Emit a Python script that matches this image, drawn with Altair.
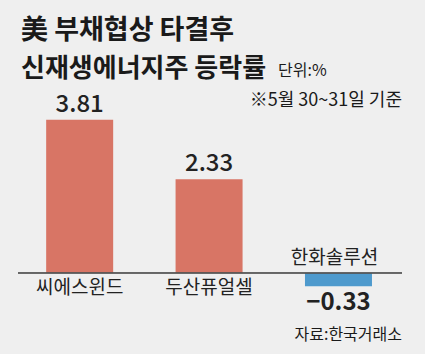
import altair as alt
import pandas as pd

categories = ["씨에스윈드", "두산퓨얼셀", "한화솔루션"]
values = [3.81, 2.33, -0.33]
labels = ["3.81", "2.33", "−0.33"]
positions = [0, 1, 2]

df = pd.DataFrame({"cat": categories, "val": values, "label": labels, "pos": positions})
df["sign"] = ["pos" if v >= 0 else "neg" for v in values]
df["zero"] = 0.0

FONT = "Noto Sans CJK KR"
W, H = 425, 354

x = alt.X("pos:Q", scale=alt.Scale(domain=[-0.577, 2.630], nice=False, zero=False), axis=None)
y = alt.Y("val:Q", scale=alt.Scale(domain=[-2.015, 6.79], nice=False, zero=False), axis=None)
y0 = alt.Y("zero:Q", scale=alt.Scale(domain=[-2.015, 6.79], nice=False, zero=False), axis=None)

base = alt.Chart(df)

bars = base.mark_bar(size=67).encode(
    x=x, y=y, y2="zero:Q",
    color=alt.Color("sign:N", scale=alt.Scale(domain=["pos", "neg"], range=["#d87565", "#4e9acd"]), legend=None),
)

axis_line = base.mark_rule(color="#555555", strokeWidth=1).encode(
    y=y0, x=alt.value(18), x2=alt.value(402)
)

val_pos = base.transform_filter("datum.val >= 0").mark_text(
    font=FONT, fontSize=24, baseline="alphabetic", dy=-8, color="#222222", fontWeight=500
).encode(x=x, y=y, text="label:N")

val_neg = base.transform_filter("datum.val < 0").mark_text(
    font=FONT, fontSize=24, baseline="top", dy=5, color="#222222", fontWeight="bold"
).encode(x=x, y=y, text="label:N")

cat_pos = base.transform_filter("datum.val >= 0").mark_text(
    font=FONT, fontSize=19, baseline="top", dy=6, color="#222222"
).encode(x=x, y=y0, text="cat:N")

cat_neg = base.transform_filter("datum.val < 0").mark_text(
    font=FONT, fontSize=19, baseline="bottom", dy=-5, dx=-4, color="#222222"
).encode(x=x, y=y0, text="cat:N")

def txt(s, xx, yy, size, weight="normal", align="left"):
    return alt.Chart(pd.DataFrame({"t": [s]})).mark_text(
        font=FONT, fontSize=size, fontWeight=weight, align=align, baseline="middle", color="#1a1a1a"
    ).encode(x=alt.value(xx), y=alt.value(yy), text="t:N")

title1 = txt("美 부채협상 타결후", 21, 31, 27, "bold")
title2 = txt("신재생에너지주 등락률", 21, 69, 26, "bold")
unit = txt("단위:%", 278, 71, 16)
note = txt("※5월 30~31일 기준", 402, 101, 18, align="right")
source = txt("자료:한국거래소", 402, 335, 16, align="right")

chart = alt.layer(
    bars, axis_line, val_pos, val_neg, cat_pos, cat_neg, title1, title2, unit, note, source
).properties(
    width=W, height=H, background="#efefef", padding=0,
    autosize=alt.AutoSizeParams(type="none"),
).configure_view(stroke=None)

chart.save("out.html", embed_options={"renderer": "svg", "actions": False})
